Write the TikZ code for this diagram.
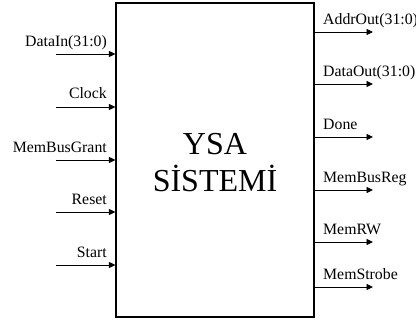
\documentclass[tikz,border=0pt]{standalone}
\usepackage{fontspec}
\setmainfont{Liberation Serif}
\usetikzlibrary{arrows.meta}
\begin{document}
\begin{tikzpicture}[x=1pt,y=-1pt,
  sig/.style={line width=0.9pt,-{Triangle[length=6.5pt,width=6pt]}},
  lbl/.style={inner sep=0pt,font=\fontsize{15.8}{18}\selectfont},
  sysbox/.style={draw,line width=1.1pt,inner sep=0pt}]
\useasboundingbox (0,0) rectangle (416,324);
% system block
\node[sysbox,minimum width=198pt,minimum height=314pt] (sys) at (215,160) {};
\node[align=center,inner sep=0pt,font=\fontsize{32}{37}\selectfont] (title) at (215,163) {YSA\\SİSTEMİ};
% inputs
\foreach \name/\txt/\yy in {din/DataIn(31:0)/54, clk/Clock/107, grant/MemBusGrant/160, rst/Reset/212, start/Start/265}{
  \coordinate (\name-s) at (56,\yy);
  \coordinate (\name-e) at (sys.west |- 0,\yy);
  \draw[sig] (\name-s) -- (\name-e);
  \node[lbl,anchor=base east] (\name-l) at (107,\yy-8) {\txt};
}
% outputs
\foreach \name/\txt/\yy in {addr/AddrOut(31:0)/32, dout/DataOut(31:0)/84, done/Done/137, breg/MemBusReg/190, rw/MemRW/242, strobe/MemStrobe/287}{
  \coordinate (\name-s) at (sys.east |- 0,\yy);
  \coordinate (\name-e) at (373,\yy);
  \draw[sig] (\name-s) -- (\name-e);
  \node[lbl,anchor=base west] (\name-l) at (323,\yy-8) {\txt};
}
\end{tikzpicture}
\end{document}
